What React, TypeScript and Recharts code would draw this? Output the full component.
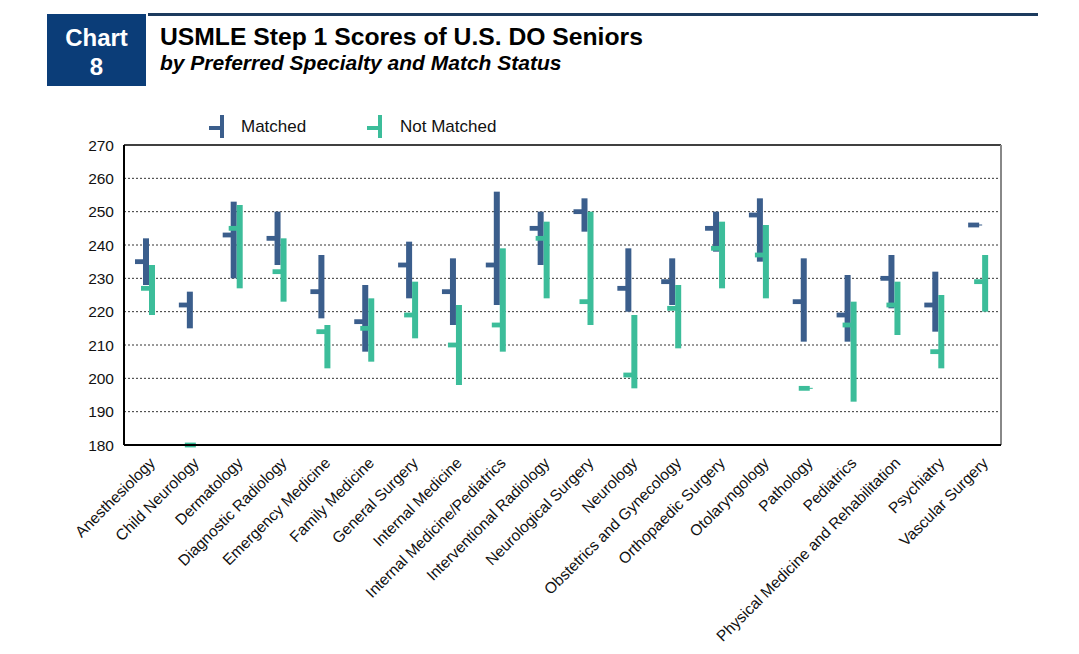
import React from "react";
import { BarChart, Bar, XAxis, YAxis, CartesianGrid, ReferenceLine } from "recharts";

const categories = [
  "Anesthesiology",
  "Child Neurology",
  "Dermatology",
  "Diagnostic Radiology",
  "Emergency Medicine",
  "Family Medicine",
  "General Surgery",
  "Internal Medicine",
  "Internal Medicine/Pediatrics",
  "Interventional Radiology",
  "Neurological Surgery",
  "Neurology",
  "Obstetrics and Gynecology",
  "Orthopaedic Surgery",
  "Otolaryngology",
  "Pathology",
  "Pediatrics",
  "Physical Medicine and Rehabilitation",
  "Psychiatry",
  "Vascular Surgery",
];

// Matched: low / high / mean
const matchedLow = [228, 215, 230, 234, 218, 208, 224, 216, 222, 234, 244, 220, 222, 238, 235, 211, 211, 221, 214, 246];
const matchedHigh = [242, 226, 253, 250, 237, 228, 241, 236, 256, 250, 254, 239, 236, 250, 254, 236, 231, 237, 232, 246];
const matchedMean = [235, 222, 243, 242, 226, 217, 234, 226, 234, 245, 250, 227, 229, 245, 249, 223, 219, 230, 222, 246];

// Not matched: low / high / mean
const notLow = [219, 180, 227, 223, 203, 205, 212, 198, 208, 224, 216, 197, 209, 227, 224, 197, 193, 213, 203, 220];
const notHigh = [234, 180, 252, 242, 216, 224, 229, 222, 239, 247, 250, 219, 228, 247, 246, 197, 223, 229, 225, 237];
const notMean = [227, 180, 245, 232, 214, 215, 219, 210, 216, 242, 223, 201, 221, 239, 237, 197, 216, 222, 208, 229];

const yTicks = [180, 190, 200, 210, 220, 230, 240, 250, 260, 270];

const MATCHED = "#3b5e8c";
const NOT_MATCHED = "#3cbd9a";
const FONT = "'Liberation Sans', Arial, Helvetica, sans-serif";

const data = categories.map((name, i) => ({
  name,
  matched: [matchedLow[i], matchedHigh[i]],
  mMean: matchedMean[i],
  notMatched: [notLow[i], notHigh[i]],
  nMean: notMean[i],
}));

function makeShape(color: string, meanKey: "mMean" | "nMean", rangeKey: "matched" | "notMatched") {
  return (props: any) => {
    const { x, y, width, height, payload } = props;
    if (x == null || y == null) return null;
    const top = Math.min(y, y + height);
    const h = Math.abs(height);
    const [low, high] = payload[rangeKey];
    const mean = payload[meanKey];
    const meanY = high > low ? top + ((high - mean) / (high - low)) * h : top;
    const bx = x + 3;
    return (
      <g>
        {h > 0.5 ? (
          <rect x={bx} y={top} width={width} height={h} fill={color} />
        ) : (
          <rect x={bx} y={top - 0.5} width={width} height={1} fill={color} />
        )}
        <rect x={bx - 8} y={meanY - 2.4} width={8 + width / 2} height={4.8} fill={color} />
      </g>
    );
  };
}

function CategoryTick(props: any) {
  const { x, y, payload } = props;
  const tx = x + 10;
  const ty = y + 19;
  return (
    <text
      x={tx}
      y={ty}
      transform={`rotate(-45, ${tx}, ${ty})`}
      textAnchor="end"
      fontSize={15.5}
      fontFamily={FONT}
      fill="#111"
    >
      {payload.value}
    </text>
  );
}

function LegendMark({ color }: { color: string }) {
  return (
    <svg width={16} height={24} style={{ display: "block" }}>
      <rect x={11} y={0} width={4} height={23} fill={color} />
      <rect x={0} y={11} width={13} height={4} fill={color} />
    </svg>
  );
}

export default function App() {
  return (
    <div
      style={{
        position: "absolute",
        left: 0,
        top: 0,
        width: 1079,
        height: 654,
        background: "#fff",
        fontFamily: FONT,
      }}
    >
      <div
        style={{
          position: "absolute",
          left: 47,
          top: 14,
          width: 99,
          height: 72,
          background: "#0b3d78",
          color: "#fff",
          fontWeight: 700,
          fontSize: 24,
          textAlign: "center",
          lineHeight: "29px",
          paddingTop: 9,
          boxSizing: "border-box",
        }}
      >
        Chart
        <br />8
      </div>
      <div style={{ position: "absolute", left: 148, top: 13, width: 890, height: 3, background: "#1c3b5e" }} />
      <div
        style={{
          position: "absolute",
          left: 160,
          top: 23,
          fontSize: 24.7,
          fontWeight: 700,
          color: "#000",
          whiteSpace: "nowrap",
          lineHeight: "28px",
        }}
      >
        USMLE Step 1 Scores of U.S. DO Seniors
      </div>
      <div
        style={{
          position: "absolute",
          left: 160,
          top: 51,
          fontSize: 21,
          fontWeight: 700,
          fontStyle: "italic",
          color: "#000",
          whiteSpace: "nowrap",
          lineHeight: "24px",
        }}
      >
        by Preferred Specialty and Match Status
      </div>

      <div style={{ position: "absolute", left: 209, top: 115, display: "flex", alignItems: "center" }}>
        <LegendMark color={MATCHED} />
        <span style={{ marginLeft: 16, fontSize: 17, color: "#111" }}>Matched</span>
      </div>
      <div style={{ position: "absolute", left: 367, top: 115, display: "flex", alignItems: "center" }}>
        <LegendMark color={NOT_MATCHED} />
        <span style={{ marginLeft: 17, fontSize: 17, color: "#111" }}>Not Matched</span>
      </div>

      <div style={{ position: "absolute", left: 0, top: 0 }}>
        <BarChart
          width={1079}
          height={654}
          data={data}
          margin={{ top: 145, right: 78, bottom: 9, left: 64 }}
          barSize={6}
          barGap={0}
        >
          <CartesianGrid
            vertical={false}
            stroke="#333"
            strokeDasharray="2 2"
            horizontalValues={[190, 200, 210, 220, 230, 240, 250, 260]}
          />
          <XAxis
            dataKey="name"
            interval={0}
            height={200}
            tickLine={false}
            tickSize={0}
            tickMargin={0}
            axisLine={{ stroke: "#000", strokeWidth: 2 }}
            tick={<CategoryTick />}
          />
          <YAxis
            domain={[180, 270]}
            ticks={yTicks}
            interval={0}
            width={60}
            tickLine={false}
            tickSize={0}
            tickMargin={10}
            axisLine={{ stroke: "#000", strokeWidth: 2 }}
            tick={{ fontSize: 15.5, fill: "#111", fontFamily: FONT }}
          />
          <ReferenceLine y={270} stroke="#000" strokeWidth={1.5} />
          <ReferenceLine
            x={categories[categories.length - 1]}
            position="end"
            stroke="#888"
            strokeWidth={2}
          />
          <Bar
            dataKey="matched"
            isAnimationActive={false}
            shape={makeShape(MATCHED, "mMean", "matched")}
          />
          <Bar
            dataKey="notMatched"
            isAnimationActive={false}
            shape={makeShape(NOT_MATCHED, "nMean", "notMatched")}
          />
        </BarChart>
      </div>
    </div>
  );
}
